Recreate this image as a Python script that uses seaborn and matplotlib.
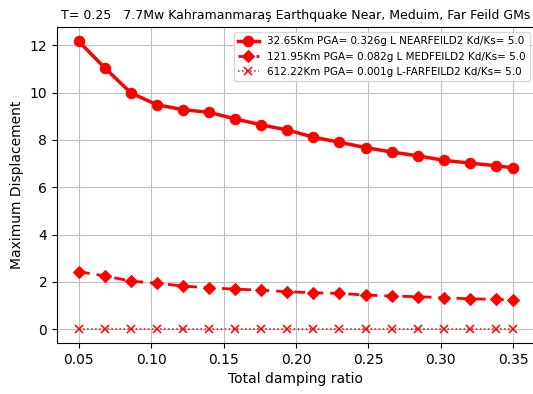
import numpy as np
import matplotlib
matplotlib.use("Agg")
import matplotlib.pyplot as plt
import seaborn as sns

# damping ratios (step 0.018 plus the last 0.35)
damping = [0.05, 0.068, 0.086, 0.104, 0.122, 0.14, 0.158, 0.176, 0.194,
           0.212, 0.23, 0.248, 0.266, 0.284, 0.302, 0.32, 0.338, 0.35]

# max displacement
disp_near = [12.17, 11.05, 9.99, 9.49, 9.28, 9.17, 8.89, 8.64, 8.42,
             8.12, 7.90, 7.68, 7.49, 7.33, 7.14, 7.02, 6.91, 6.82]
disp_med = [2.43, 2.25, 2.03, 1.94, 1.82, 1.75, 1.69, 1.65, 1.58,
            1.54, 1.51, 1.44, 1.40, 1.37, 1.33, 1.28, 1.26, 1.23]
disp_far = [0.02, 0.02, 0.02, 0.02, 0.02, 0.02, 0.02, 0.02, 0.02,
            0.02, 0.02, 0.02, 0.02, 0.02, 0.02, 0.02, 0.02, 0.02]

lbl_near = "32.65Km PGA= 0.326g L NEARFEILD2 Kd/Ks= 5.0"
lbl_med = "121.95Km PGA= 0.082g L MEDFEILD2 Kd/Ks= 5.0"
lbl_far = "612.22Km PGA= 0.001g L-FARFEILD2 Kd/Ks= 5.0"

fig = plt.figure(figsize=(5.33, 3.94), dpi=100)
# axes runs a little past the right edge, like the cropped original
ax = fig.add_axes([57/533, 51/394, 478/533, 316/394])

sns.lineplot(x=damping, y=disp_near, ax=ax, color="red", marker="o",
             markersize=7.5, markeredgecolor="red", linewidth=2.5, label=lbl_near)
sns.lineplot(x=damping, y=disp_med, ax=ax, color="red", marker="D",
             markersize=6.5, markeredgecolor="red", linewidth=2,
             dashes=(4, 2.5), label=lbl_med)
sns.lineplot(x=damping, y=disp_far, ax=ax, color="red", marker="x",
             markersize=6, markeredgecolor="red", markeredgewidth=1.1,
             linewidth=1.1, linestyle=":", label=lbl_far)

ax.set_xticks([0.05, 0.10, 0.15, 0.20, 0.25, 0.30, 0.35])
ax.set_yticks([0, 2, 4, 6, 8, 10, 12])
ax.grid(True, color="#c0c0c0", linewidth=0.8)
ax.set_xlabel("Total damping ratio", fontsize=10)
ax.set_ylabel("Maximum Displacement", fontsize=10)
ax.set_title("T= 0.25   7.7Mw Kahramanmaraş Earthquake Near, Meduim, Far Feild GMs",
             fontsize=9)
ax.legend(loc="upper right", fontsize=7.5)

fig.savefig("out.png", dpi=100)
